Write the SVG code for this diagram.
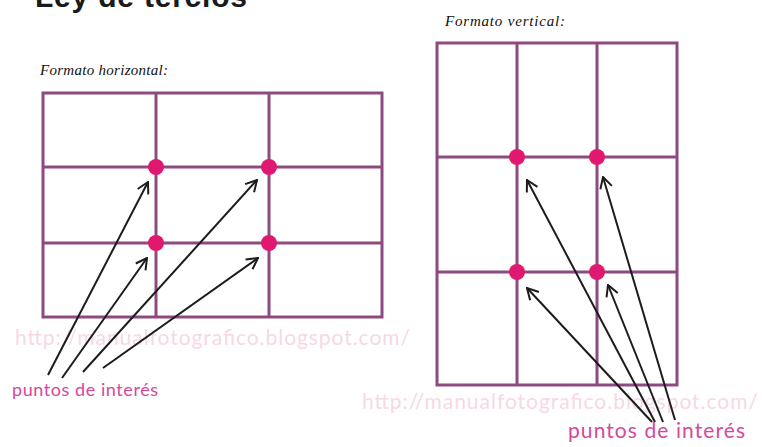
<svg xmlns="http://www.w3.org/2000/svg" width="762" height="447" viewBox="0 0 762 447">
<style>
.grid{fill:none;stroke:#8d4a80;stroke-width:3}
.dot{fill:#e0186f}
.arr{fill:none;stroke:#1c1c1c;stroke-width:2}
.hand{font-family:"Liberation Serif",serif;font-style:italic;font-size:15px;fill:#111}
.pink{font-family:Lato,"Noto Sans",sans-serif;fill:#d6489b}
.wm{font-family:Lato,"Noto Sans",sans-serif;fill:#f6d8e7;font-size:21px}
</style>
<defs>
<marker id="ah" markerUnits="userSpaceOnUse" viewBox="0 0 14 14" refX="13" refY="7" markerWidth="14" markerHeight="14" orient="auto">
<path d="M2,1 L13,7 L2,13" fill="none" stroke="#1c1c1c" stroke-width="2"/>
</marker>
</defs>
<rect width="762" height="447" fill="#fff"/>
<text x="35" y="7" font-family="Liberation Sans,sans-serif" font-weight="bold" font-size="30" textLength="212" fill="#1a1a1a">Ley de tercios</text>
<text class="wm" x="15" y="345" textLength="395">http://manualfotografico.blogspot.com/</text>
<text class="wm" x="362" y="409" textLength="396">http://manualfotografico.blogspot.com/</text>
<g id="horizontal">
<text class="hand" x="40" y="75" textLength="128">Formato horizontal:</text>
<rect class="grid" x="43" y="93" width="339" height="224"/>
<line class="grid" x1="156" y1="93" x2="156" y2="317"/>
<line class="grid" x1="269" y1="93" x2="269" y2="317"/>
<line class="grid" x1="43" y1="167" x2="382" y2="167"/>
<line class="grid" x1="43" y1="243" x2="382" y2="243"/>
<circle class="dot" cx="156" cy="167" r="8"/>
<circle class="dot" cx="269" cy="167" r="8"/>
<circle class="dot" cx="156" cy="243" r="8"/>
<circle class="dot" cx="269" cy="243" r="8"/>
</g>
<g id="vertical">
<text class="hand" x="445" y="26" textLength="120">Formato vertical:</text>
<rect class="grid" x="437" y="43" width="240" height="342"/>
<line class="grid" x1="517" y1="43" x2="517" y2="385"/>
<line class="grid" x1="597" y1="43" x2="597" y2="385"/>
<line class="grid" x1="437" y1="157" x2="677" y2="157"/>
<line class="grid" x1="437" y1="272" x2="677" y2="272"/>
<circle class="dot" cx="517" cy="157" r="8"/>
<circle class="dot" cx="597" cy="157" r="8"/>
<circle class="dot" cx="517" cy="272" r="8"/>
<circle class="dot" cx="597" cy="272" r="8"/>
</g>
<g id="connectors">
<line class="arr" x1="48" y1="375" x2="148" y2="182" marker-end="url(#ah)"/>
<line class="arr" x1="62" y1="378" x2="147" y2="258" marker-end="url(#ah)"/>
<line class="arr" x1="83" y1="372" x2="257" y2="180" marker-end="url(#ah)"/>
<line class="arr" x1="103" y1="368" x2="258" y2="258" marker-end="url(#ah)"/>
<line class="arr" x1="652" y1="422" x2="527" y2="288" marker-end="url(#ah)"/>
<line class="arr" x1="655" y1="422" x2="527" y2="180" marker-end="url(#ah)"/>
<line class="arr" x1="663" y1="422" x2="608" y2="285" marker-end="url(#ah)"/>
<line class="arr" x1="675" y1="420" x2="603" y2="177" marker-end="url(#ah)"/>
</g>
<g id="label-left"><text class="pink" x="12" y="396" font-size="18" textLength="146">puntos de interés</text></g>
<g id="label-right"><text class="pink" x="568" y="438" font-size="21" textLength="177">puntos de interés</text></g>
</svg>
